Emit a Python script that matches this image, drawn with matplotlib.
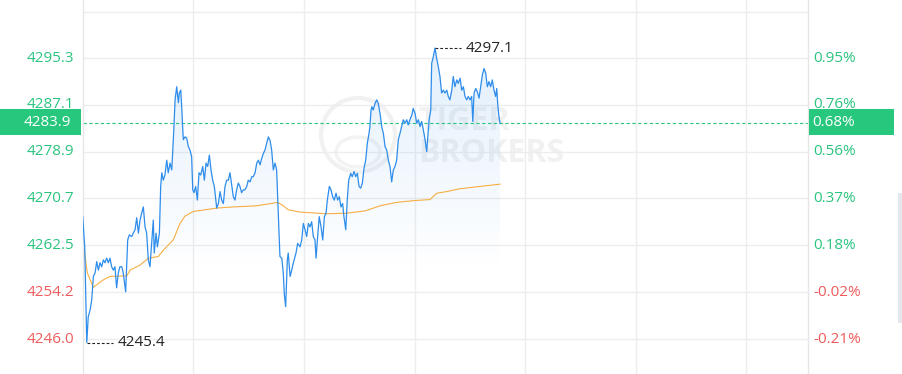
import numpy as np
import matplotlib
matplotlib.use("Agg")
import matplotlib.pyplot as plt
from matplotlib.patches import Rectangle, Ellipse, Polygon
from matplotlib.colors import to_rgb

# intraday prices (minutes from open, price)
t = [0.0, 1.1, 2.2, 3.0, 4.0, 4.9, 5.8, 6.7, 7.6, 8.5, 9.4, 10.3, 11.2, 12.1, 13.0,
     13.9, 14.8, 15.7, 16.6, 17.5, 18.4, 19.3, 20.2, 21.2, 22.0, 23.3, 24.4, 25.3,
     26.6, 27.4, 28.4, 29.3, 30.2, 31.1, 32.0, 32.9, 33.8, 34.7, 35.6, 36.5, 37.4,
     38.3, 38.8, 39.8, 40.5, 41.6, 42.3, 42.9, 43.7, 44.6, 45.6, 46.4, 47.4, 48.3,
     48.8, 49.5, 50.1, 51.0, 51.9, 52.4, 53.2, 53.7, 54.2, 54.6, 55.5, 56.4, 57.3,
     58.2, 59.1, 59.7, 60.4, 61.3, 62.2, 63.1, 64.0, 65.1, 66.0, 66.9, 67.8, 68.7,
     69.6, 70.5, 71.4, 72.7, 73.6, 74.5, 75.4, 76.3, 77.2, 78.1, 79.0, 79.9, 80.8,
     81.7, 82.6, 83.5, 84.4, 85.3, 86.2, 87.1, 88.0, 89.0, 89.8, 90.8, 91.7, 92.5,
     93.5, 94.4, 95.3, 96.2, 97.1, 98.0, 98.9, 99.8, 100.7, 101.6, 102.5, 103.4,
     104.3, 105.2, 105.8, 106.5, 107.0, 108.0, 108.8, 109.4, 110.1, 111.0, 111.5,
     112.5, 113.4, 114.2, 115.7, 116.6, 117.9, 118.8, 119.7, 120.6, 121.5, 122.4,
     123.3, 124.2, 125.1, 126.0, 126.6, 127.3, 128.3, 129.3, 130.2, 131.1, 132.0,
     132.7, 133.8, 134.7, 135.6, 136.5, 137.4, 138.3, 139.2, 140.1, 141.0, 141.7,
     142.7, 143.5, 144.3, 145.4, 146.2, 147.2, 148.1, 149.0, 149.9, 150.8, 151.7,
     152.6, 153.5, 154.4, 155.3, 155.8, 156.4, 156.9, 157.6, 158.6, 159.5, 160.3,
     161.3, 162.2, 163.1, 164.0, 164.9, 165.8, 166.7, 167.6, 168.5, 169.4, 170.3,
     171.2, 172.1, 173.0, 173.9, 174.8, 175.8, 176.6, 177.5, 178.5, 179.3, 180.3,
     181.2, 182.1, 183.0, 183.9, 184.8, 185.7, 186.6, 187.1, 187.9, 188.8, 189.3,
     190.2, 191.1, 192.0, 192.9, 193.8, 194.7, 195.6, 196.5, 197.5, 198.3, 199.2,
     200.2, 201.0, 201.9, 202.9, 203.7, 204.7, 205.6, 206.5, 207.4, 208.3, 209.2,
     210.1, 211.0, 211.6, 212.3, 213.2, 214.1, 215.0, 215.9, 216.8, 217.7, 218.6,
     219.5, 220.4, 221.3, 222.2, 223.1, 224.0, 224.6, 225.1, 225.8, 226.4]
price = [4267.5, 4262.2, 4245.4, 4249.9, 4251.1, 4252.9, 4257.0, 4257.6, 4259.6, 4258.1,
         4259.4, 4258.7, 4259.9, 4259.4, 4260.2, 4259.4, 4260.2, 4258.7, 4258.1, 4258.7,
         4255.0, 4257.6, 4258.7, 4258.7, 4257.6, 4254.3, 4263.4, 4264.3, 4264.0, 4264.6,
         4265.2, 4267.3, 4264.6, 4266.9, 4268.1, 4269.2, 4265.7, 4264.6, 4259.9, 4258.7,
         4262.9, 4266.9, 4261.1, 4264.6, 4262.2, 4264.6, 4272.8, 4275.2, 4273.9, 4274.8,
         4277.4, 4275.2, 4276.9, 4275.7, 4278.7, 4283.3, 4288.0, 4290.3, 4287.5, 4289.2,
         4289.7, 4286.8, 4283.3, 4281.0, 4281.5, 4281.3, 4279.8, 4279.2, 4278.0, 4272.2,
         4271.7, 4272.8, 4270.4, 4275.2, 4274.8, 4276.3, 4273.9, 4276.9, 4276.3, 4278.3,
         4275.7, 4273.9, 4272.8, 4269.0, 4269.8, 4271.9, 4270.4, 4269.8, 4272.8, 4273.9,
         4273.9, 4275.2, 4273.1, 4271.0, 4270.4, 4272.2, 4273.4, 4272.8, 4271.7, 4272.2,
         4272.2, 4272.8, 4273.9, 4273.6, 4274.5, 4274.5, 4275.2, 4276.9, 4277.4, 4276.6,
         4277.7, 4278.6, 4279.2, 4280.4, 4281.5, 4280.9, 4279.2, 4275.7, 4276.9, 4275.7,
         4270.4, 4264.6, 4260.5, 4260.2, 4257.6, 4253.7, 4251.7, 4259.9, 4261.1, 4257.0,
         4258.1, 4259.3, 4261.1, 4262.8, 4262.2, 4263.4, 4266.3, 4265.2, 4264.0, 4266.3,
         4265.7, 4266.6, 4264.0, 4263.4, 4260.2, 4263.4, 4267.5, 4265.7, 4263.4, 4267.5,
         4268.1, 4270.4, 4272.8, 4272.2, 4271.0, 4270.4, 4271.6, 4270.4, 4271.0, 4269.2,
         4269.8, 4267.5, 4265.2, 4270.4, 4273.9, 4275.1, 4274.5, 4275.4, 4274.5, 4275.1,
         4272.8, 4272.5, 4273.4, 4276.0, 4277.4, 4280.4, 4282.1, 4283.3, 4286.2, 4286.8,
         4286.2, 4287.4, 4288.0, 4287.4, 4285.6, 4283.3, 4282.1, 4279.8, 4279.2, 4277.4,
         4276.3, 4273.6, 4275.7, 4276.3, 4277.4, 4281.0, 4282.1, 4283.3, 4284.5, 4283.9,
         4284.5, 4283.6, 4284.5, 4285.3, 4286.5, 4285.6, 4283.9, 4284.5, 4283.3, 4284.2,
         4282.7, 4281.0, 4278.9, 4281.0, 4284.5, 4286.2, 4294.4, 4295.6, 4297.1, 4295.3,
         4293.8, 4292.1, 4289.2, 4289.7, 4289.2, 4289.7, 4288.6, 4288.0, 4289.7, 4292.1,
         4290.3, 4291.5, 4290.9, 4291.8, 4289.7, 4290.3, 4288.6, 4288.0, 4288.6, 4288.0,
         4288.6, 4284.2, 4289.2, 4290.0, 4289.4, 4288.3, 4290.3, 4292.4, 4293.5, 4292.7,
         4290.3, 4291.2, 4290.3, 4291.5, 4289.7, 4288.6, 4290.0, 4287.4, 4285.0, 4283.9]

# average price line
avg_t = [0.0, 2.5, 5.8, 11.2, 14.8, 23.9, 25.7, 31.1, 35.6, 41.0, 43.7, 49.1, 52.8,
         55.5, 60.0, 72.7, 81.7, 94.4, 105.8, 108.8, 111.5, 117.9, 132.4, 143.2,
         153.1, 161.3, 170.3, 179.3, 188.4, 192.0, 197.5, 204.7, 215.5, 226.4]
avg_price = [4263.7, 4257.6, 4255.1, 4256.4, 4257.0, 4257.1, 4258.1, 4259.0, 4260.2,
             4260.5, 4261.6, 4263.4, 4266.3, 4267.6, 4268.4, 4269.0, 4269.2, 4269.4,
             4270.0, 4269.4, 4268.7, 4268.3, 4268.0, 4268.1, 4268.5, 4269.4, 4270.0,
             4270.3, 4270.5, 4271.6, 4271.9, 4272.4, 4272.8, 4273.2]

prev_close = 4255.0
last_price = 4283.9
price_ticks = [4246.0, 4254.2, 4262.5, 4270.7, 4278.9, 4287.1, 4295.3]
price_labels = ['4246.0', '4254.2', '4262.5', '4270.7', '4278.9', '4287.1', '4295.3']
pct_labels = ['-0.21%', '-0.02%', '0.18%', '0.37%', '0.56%', '0.76%', '0.95%']
grid_levels = price_ticks + [4303.5]
last_label = '4283.9'
last_pct = '0.68%'
hour_marks = [60, 120, 180, 240, 300, 360]

W, H = 902, 374
GREEN = '#2BC47E'
RED = '#EF5B5B'
BLUE = '#2E8DEB'
ORANGE = '#F6AE45'
GRID = '#EDEDED'
FONT = 'Open Sans'

fig = plt.figure(figsize=(W / 100, H / 100), dpi=100)
ax = fig.add_axes([82.7 / W, 0, 725.6 / W, 1])
ylo, yhi = 4239.87, 4305.53

# faint watermark, kept inside the axes so the line draws over it
wm = dict(color='#F1F1F1', fontsize=23, fontweight='bold', family=FONT, zorder=0.5,
          transform=fig.transFigure, ha='left', va='center', clip_on=False)
ax.text(418 / W, 1 - 122 / H, 'TIGER', **wm)
ax.text(418 / W, 1 - 154 / H, 'BROKERS', **wm)
ax.add_patch(Ellipse((358 / W, 1 - 135 / H), 74 / W, 74 / H, transform=fig.transFigure,
                     fill=False, ec='#F1F1F1', lw=3, zorder=0.5, clip_on=False))
ax.add_patch(Ellipse((358 / W, 1 - 152 / H), 44 / W, 30 / H, transform=fig.transFigure,
                     fill=False, ec='#F3F3F3', lw=2.5, zorder=0.5, clip_on=False))

# gradient fill under the price line
grad = np.zeros((256, 1, 4))
grad[..., :3] = to_rgb('#3D95EC')
grad[..., 3] = np.linspace(0.15, 0.0, 256)[:, None]
im = ax.imshow(grad, aspect='auto', origin='upper', zorder=1,
               extent=[t[0], t[-1], 4258.0, max(price)])
poly = Polygon(np.column_stack([np.r_[t[0], t, t[-1]], np.r_[ylo, price, ylo]]),
               closed=True, fc='none', ec='none')
ax.add_patch(poly)
im.set_clip_path(poly)

ax.plot(t, price, color=BLUE, lw=0.9, zorder=3)
ax.plot(avg_t, avg_price, color=ORANGE, lw=0.8, zorder=2)

# last price line
ax.axhline(last_price, color=GREEN, lw=0.8, ls=(0, (3, 2.2)), zorder=2.5)

# high / low markers
i_hi = int(np.argmax(price))
i_lo = int(np.argmin(price))
for i in (i_hi, i_lo):
    ax.plot([t[i], t[i] + 14], [price[i]] * 2, color='#222222', lw=0.8,
            ls=(0, (2.5, 1.8)), zorder=4)
    ax.text(t[i] + 16.8, price[i], '%.1f' % price[i], color='#222222',
            fontsize=11, family=FONT, va='center', ha='left', zorder=4)

ax.set_xlim(0, 393.6)
ax.set_ylim(ylo, yhi)
ax.set_xticks(hour_marks)
ax.set_yticks(grid_levels)
ax.tick_params(length=0, labelleft=False, labelbottom=False)
ax.grid(True, color=GRID, lw=1)
ax.set_axisbelow(True)
for s in ['top', 'bottom']:
    ax.spines[s].set_visible(False)
for s in ['left', 'right']:
    ax.spines[s].set_color('#E6E6E6')
    ax.spines[s].set_linewidth(1)

# axis labels
tr = ax.get_yaxis_transform()
for v, lab, pl in zip(price_ticks, price_labels, pct_labels):
    c = GREEN if v >= prev_close else RED
    ax.text(-8.5 / 725.6, v, lab, transform=tr, color=c, fontsize=11, family=FONT,
            ha='right', va='center', clip_on=False)
    ax.text(1 + 5 / 725.6, v, pl, transform=tr, color=c, fontsize=11, family=FONT,
            ha='left', va='center', clip_on=False)

# current price tags
y0 = 1 - 135 / H
bh = 26 / H
fig.add_artist(Rectangle((0, y0), 81 / W, bh, transform=fig.transFigure,
                         fc='#27C77D', ec='none', zorder=5))
fig.add_artist(Rectangle((809 / W, y0), 85 / W, bh, transform=fig.transFigure,
                         fc='#27C77D', ec='none', zorder=5))
fig.text(71 / W, y0 + bh / 2, last_label, color='white', fontsize=11, family=FONT,
         ha='right', va='center', zorder=6)
fig.text(812 / W, y0 + bh / 2, last_pct, color='white', fontsize=11, family=FONT,
         ha='left', va='center', zorder=6)

# side scroll strip
fig.add_artist(Rectangle((898 / W, 1 - 323 / H), 4 / W, 130 / H,
                         transform=fig.transFigure, fc='#E4E7EB', ec='none'))

fig.savefig('out.png', dpi=100, facecolor='white')
